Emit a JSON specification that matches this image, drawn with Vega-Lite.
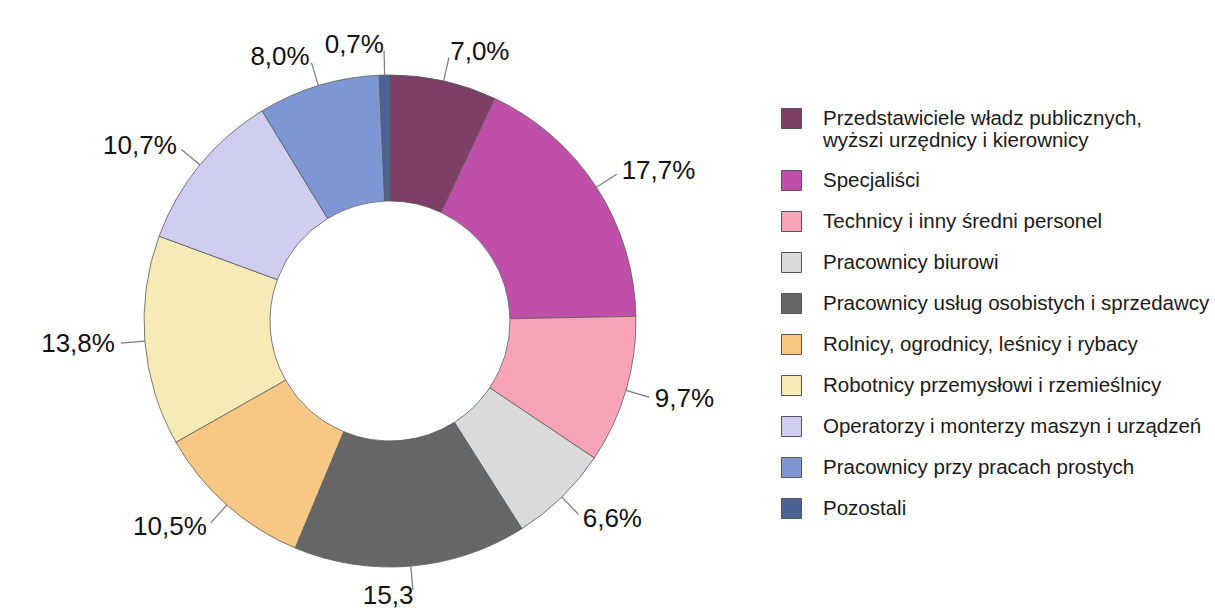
{
  "$schema": "https://vega.github.io/schema/vega-lite/v6.json",
  "width": 780,
  "height": 588,
  "padding": {"top": 27, "left": 0, "right": 0, "bottom": 0},
  "autosize": {"type": "pad"},
  "background": "white",
  "config": {"view": {"stroke": null}, "font": "Liberation Sans"},
  "data": {
    "values": [
      {"kat": "Przedstawiciele władz publicznych, wyższi urzędnicy i kierownicy", "order": 1, "val": 7.0, "lab": "7,0%", "side": "R"},
      {"kat": "Specjaliści", "order": 2, "val": 17.7, "lab": "17,7%", "side": "R"},
      {"kat": "Technicy i inny średni personel", "order": 3, "val": 9.7, "lab": "9,7%", "side": "R"},
      {"kat": "Pracownicy biurowi", "order": 4, "val": 6.6, "lab": "6,6%", "side": "R"},
      {"kat": "Pracownicy usług osobistych i sprzedawcy", "order": 5, "val": 15.3, "lab": "15,3", "side": "L"},
      {"kat": "Rolnicy, ogrodnicy, leśnicy i rybacy", "order": 6, "val": 10.5, "lab": "10,5%", "side": "L"},
      {"kat": "Robotnicy przemysłowi  i rzemieślnicy", "order": 7, "val": 13.8, "lab": "13,8%", "side": "L"},
      {"kat": "Operatorzy i monterzy maszyn i urządzeń", "order": 8, "val": 10.7, "lab": "10,7%", "side": "L"},
      {"kat": "Pracownicy przy pracach prostych", "order": 9, "val": 8.0, "lab": "8,0%", "side": "L"},
      {"kat": "Pozostali", "order": 10, "val": 0.7, "lab": "0,7%", "side": "L"}
    ]
  },
  "encoding": {
    "theta": {"field": "val", "type": "quantitative", "stack": true},
    "order": {"field": "order", "type": "quantitative"}
  },
  "layer": [
    {
      "mark": {"type": "arc", "outerRadius": 246, "innerRadius": 120, "stroke": "#5a5a5a", "strokeWidth": 0.8},
      "encoding": {
        "color": {
          "field": "kat",
          "type": "nominal",
          "sort": {"field": "order"},
          "scale": {
            "domain": [
              "Przedstawiciele władz publicznych, wyższi urzędnicy i kierownicy",
              "Specjaliści",
              "Technicy i inny średni personel",
              "Pracownicy biurowi",
              "Pracownicy usług osobistych i sprzedawcy",
              "Rolnicy, ogrodnicy, leśnicy i rybacy",
              "Robotnicy przemysłowi  i rzemieślnicy",
              "Operatorzy i monterzy maszyn i urządzeń",
              "Pracownicy przy pracach prostych",
              "Pozostali"
            ],
            "range": ["#7e3f66", "#bf4fa8", "#f8a3b7", "#d9dadb", "#666666", "#f6c883", "#f6ebb6", "#cfcdf0", "#7c97d3", "#4a6391"]
          },
          "legend": {
            "title": null,
            "orient": "none",
            "legendX": 781,
            "legendY": 81,
            "symbolType": "square",
            "symbolSize": 400,
            "symbolStrokeColor": "#555555",
            "symbolStrokeWidth": 1,
            "labelFontSize": 20.5,
            "labelFont": "Liberation Sans",
            "labelColor": "#1a1a1a",
            "labelLimit": 0,
            "labelOffset": 21,
            "rowPadding": 16,
            "labelExpr": "datum.label == 'Przedstawiciele władz publicznych, wyższi urzędnicy i kierownicy' ? ['Przedstawiciele władz publicznych,', 'wyższi urzędnicy i kierownicy'] : datum.label"
          }
        }
      }
    },
    {
      "mark": {"type": "arc", "outerRadius": 270, "innerRadius": 246, "padAngle": 3, "stroke": "#7a7a7a", "strokeWidth": 1.2, "fill": null},
      "encoding": {}
    },
    {
      "mark": {"type": "text", "radius": 276, "align": "left", "baseline": "middle", "fontSize": 26, "font": "Liberation Sans", "color": "#111111"},
      "encoding": {"text": {"condition": {"test": "datum.side == 'R'", "field": "lab"}, "value": ""}}
    },
    {
      "mark": {"type": "text", "radius": 276, "align": "right", "baseline": "middle", "fontSize": 26, "font": "Liberation Sans", "color": "#111111"},
      "encoding": {"text": {"condition": {"test": "datum.side == 'L'", "field": "lab"}, "value": ""}}
    }
  ]
}
